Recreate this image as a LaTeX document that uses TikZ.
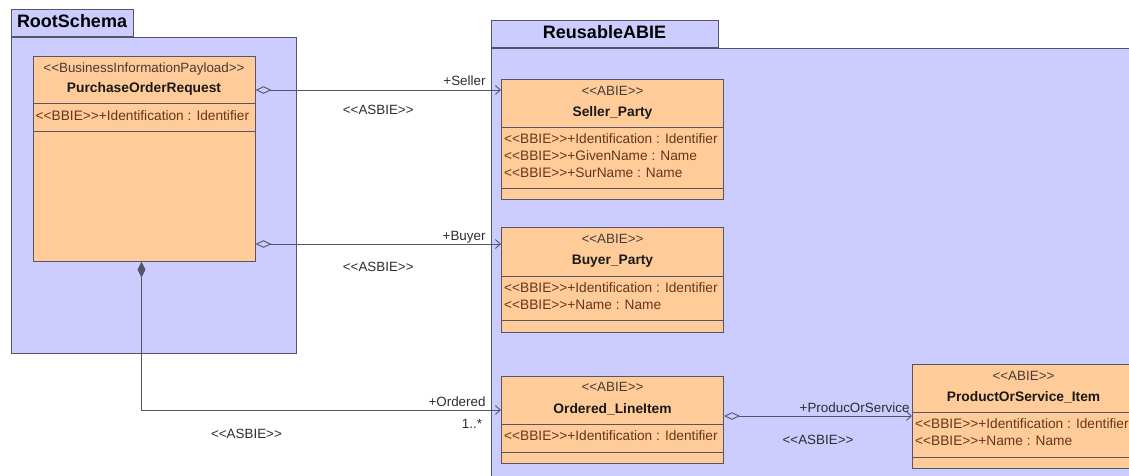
\documentclass[tikz,border=0pt]{standalone}
\usepackage{fontspec}
\newfontfamily\umlfont{Liberation Sans}
\usetikzlibrary{arrows.meta}

\definecolor{pkgfill}{RGB}{204,204,255}
\definecolor{clsfill}{RGB}{255,204,153}
\definecolor{umledge}{RGB}{85,85,105}
\definecolor{attrtext}{RGB}{100,55,25}
\definecolor{stereotext}{RGB}{70,60,55}
\definecolor{labeltext}{RGB}{45,45,45}

\tikzset{
  pkg/.style={draw=umledge, fill=pkgfill, line width=1pt, inner sep=0pt},
  pkgtab/.style={pkg, font=\umlfont\fontsize{18}{20}\selectfont\bfseries,
    minimum height=27pt, inner xsep=6pt, text height=13pt, text depth=4pt},
  umlclass/.style={draw=umledge, fill=clsfill, line width=1pt, inner sep=0pt,
    minimum width=222pt, anchor=north west},
  compart/.style={draw=umledge, line width=1pt},
  stereo/.style={font=\umlfont\fontsize{13.4}{15}\selectfont, text=stereotext,
    inner sep=0pt, anchor=base},
  clsname/.style={font=\umlfont\fontsize{13.8}{15}\selectfont\bfseries,
    text=black!90, inner sep=0pt, anchor=base},
  attr/.style={font=\umlfont\fontsize{13.7}{15}\selectfont, text=attrtext,
    inner sep=0pt, anchor=base west},
  lbl/.style={font=\umlfont\fontsize{13.4}{15}\selectfont, text=labeltext,
    inner sep=0pt},
  conn/.style={draw=umledge, line width=0.9pt},
  asbie/.style={conn, -{Straight Barb[length=5pt,width=9pt]}},
  aggr/.style={conn, {Diamond[open,length=16pt,width=7.5pt]}-{Straight Barb[length=5pt,width=9pt]}},
  comp/.style={conn, {Diamond[length=16pt,width=8pt]}-{Straight Barb[length=5pt,width=9pt]}}
}

\begin{document}
\begin{tikzpicture}[x=1pt,y=-1pt]
\useasboundingbox (0,0) rectangle (1129,475);
\clip (0,0) rectangle (1129,475);

% packages
\node[pkg, anchor=north west, minimum width=285.5pt, minimum height=316pt] (rootschema) at (10.5,37) {};
\node[pkgtab, anchor=south west] (roottab) at (rootschema.north west) {RootSchema};
\node[pkg, anchor=north west, minimum width=660pt, minimum height=450pt] (reusable) at (490.5,48) {};
\node[pkgtab, anchor=south west, minimum width=227pt] (reusabletab) at (reusable.north west) {ReusableABIE};

% PurchaseOrderRequest
\node[umlclass, minimum height=205pt] (purchase) at (32.5,55.5) {};
\node[stereo] (purchasest) at ([yshift=-17pt]purchase.north) {<<BusinessInformationPayload>>};
\node[clsname] (purchasename) at ([yshift=-37pt]purchase.north) {PurchaseOrderRequest};
\draw[compart] ([yshift=-48pt]purchase.north west) -- ([yshift=-48pt]purchase.north east);
\draw[compart] ([yshift=-75.5pt]purchase.north west) -- ([yshift=-75.5pt]purchase.north east);
\node[attr] (purchaseatt1) at ([xshift=3pt,yshift=-65pt]purchase.north west) {<<BBIE>>+Identification : Identifier};

% Seller_Party
\node[umlclass, minimum height=120pt] (seller) at (501,79) {};
\node[stereo] (sellerst) at ([yshift=-16pt]seller.north) {<<ABIE>>};
\node[clsname] (sellername) at ([yshift=-37pt]seller.north) {Seller\_Party};
\draw[compart] ([yshift=-48pt]seller.north west) -- ([yshift=-48pt]seller.north east);
\draw[compart] ([yshift=-109pt]seller.north west) -- ([yshift=-109pt]seller.north east);
\node[attr] (selleratt1) at ([xshift=3pt,yshift=-64pt]seller.north west) {<<BBIE>>+Identification : Identifier};
\node[attr] (selleratt2) at ([yshift=-17pt]selleratt1.base west) {<<BBIE>>+GivenName : Name};
\node[attr] (selleratt3) at ([yshift=-17pt]selleratt2.base west) {<<BBIE>>+SurName : Name};

% Buyer_Party
\node[umlclass, minimum height=105pt] (buyer) at (501,227) {};
\node[stereo] (buyerst) at ([yshift=-16pt]buyer.north) {<<ABIE>>};
\node[clsname] (buyername) at ([yshift=-37pt]buyer.north) {Buyer\_Party};
\draw[compart] ([yshift=-49pt]buyer.north west) -- ([yshift=-49pt]buyer.north east);
\draw[compart] ([yshift=-93pt]buyer.north west) -- ([yshift=-93pt]buyer.north east);
\node[attr] (buyeratt1) at ([xshift=3pt,yshift=-65pt]buyer.north west) {<<BBIE>>+Identification : Identifier};
\node[attr] (buyeratt2) at ([yshift=-17pt]buyeratt1.base west) {<<BBIE>>+Name : Name};

% Ordered_LineItem
\node[umlclass, minimum height=87pt] (ordered) at (501,376) {};
\node[stereo] (orderedst) at ([yshift=-15.5pt]ordered.north) {<<ABIE>>};
\node[clsname] (orderedname) at ([yshift=-37pt]ordered.north) {Ordered\_LineItem};
\draw[compart] ([yshift=-48pt]ordered.north west) -- ([yshift=-48pt]ordered.north east);
\draw[compart] ([yshift=-76pt]ordered.north west) -- ([yshift=-76pt]ordered.north east);
\node[attr] (orderedatt1) at ([xshift=3pt,yshift=-64.5pt]ordered.north west) {<<BBIE>>+Identification : Identifier};

% ProductOrService_Item
\node[umlclass, minimum height=104pt] (product) at (912,364) {};
\node[stereo] (productst) at ([yshift=-16pt]product.north) {<<ABIE>>};
\node[clsname] (productname) at ([yshift=-37pt]product.north) {ProductOrService\_Item};
\draw[compart] ([yshift=-48pt]product.north west) -- ([yshift=-48pt]product.north east);
\draw[compart] ([yshift=-93pt]product.north west) -- ([yshift=-93pt]product.north east);
\node[attr] (productatt1) at ([xshift=3pt,yshift=-64pt]product.north west) {<<BBIE>>+Identification : Identifier};
\node[attr] (productatt2) at ([yshift=-17pt]productatt1.base west) {<<BBIE>>+Name : Name};

% associations
\draw[aggr] ([yshift=-34.5pt]purchase.north east) -- ([yshift=-11pt]seller.north west)
  node[lbl, pos=1, anchor=base east, xshift=-15pt, yshift=4.5pt] (sellerrole) {+Seller}
  node[lbl, midway, yshift=-20pt] (sellerasbie) {<<ASBIE>>};
\draw[aggr] ([yshift=-188.5pt]purchase.north east) -- ([yshift=-17pt]buyer.north west)
  node[lbl, pos=1, anchor=base east, xshift=-15pt, yshift=4pt] (buyerrole) {+Buyer}
  node[lbl, midway, yshift=-23pt] (buyerasbie) {<<ASBIE>>};
\draw[comp] ([xshift=-2.5pt]purchase.south) |- ([yshift=-34pt]ordered.north west)
  node[lbl, pos=1, anchor=base east, xshift=-15pt, yshift=4pt] (orderedrole) {+Ordered}
  node[lbl, pos=1, xshift=-29pt, yshift=-14pt] (orderedmult) {1..*}
  node[lbl, pos=0.646, yshift=-24pt] (orderedasbie) {<<ASBIE>>};
\draw[aggr] ([yshift=-40pt]ordered.north east) -- ([yshift=-52pt]product.north west)
  node[lbl, pos=1, anchor=base east, xshift=-2pt, yshift=4pt] (productrole) {+ProducOrService}
  node[lbl, midway, yshift=-24pt] (productasbie) {<<ASBIE>>};
\end{tikzpicture}
\end{document}
